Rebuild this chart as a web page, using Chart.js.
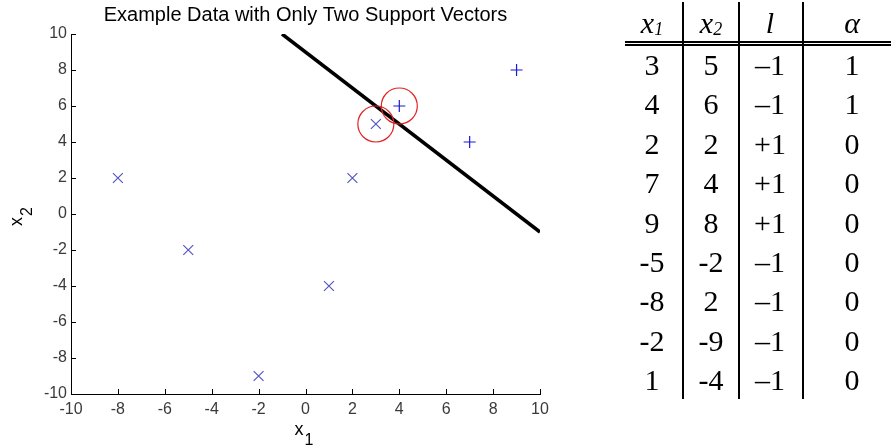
<!DOCTYPE html>
<html lang="en">
<head>
    <meta charset="UTF-8">
    <title>Example Data with Only Two Support Vectors</title>
    <script src="https://cdn.jsdelivr.net/npm/chart.js"></script>
    <style>
        body { margin: 0; background: #fff; width: 891px; height: 448px; position: relative; overflow: hidden; }
        #chartBox { position: absolute; left: 0; top: 0; width: 611px; height: 448px; }
        #svmTable { position: absolute; left: 0; top: 0; width: 891px; height: 448px; font-family: "Liberation Serif", "Times New Roman", serif; color: #000; }
        .cell { position: absolute; width: 80px; text-align: center; font-size: 30px; line-height: 30px; white-space: nowrap; }
        .rule { position: absolute; background: #000; }
    </style>
</head>
<body>
    <div id="chartBox"><canvas id="svmChart" width="611" height="448"></canvas></div>
    <div id="svmTable"></div>
    <script>
        // points of class -1 (drawn as x)
        const negX = [-8, -5, -2, 1, 2, 3];
        const negY = [2, -2, -9, -4, 2, 5];
        // points of class +1 (drawn as +)
        const posX = [4, 7, 9];
        const posY = [6, 4, 8];
        // the two support vectors (red circles)
        const svX = [3, 4];
        const svY = [5, 6];
        // separating line end points
        const lineX = [-1, 10];
        const lineY = [10, -1];
        const axisTicks = [-10, -8, -6, -4, -2, 0, 2, 4, 6, 8, 10];

        // table on the right
        const tableX1 = ['3', '4', '2', '7', '9', '-5', '-8', '-2', '1'];
        const tableX2 = ['5', '6', '2', '4', '8', '-2', '2', '-9', '-4'];
        const tableL = ['\u20131', '\u20131', '+1', '+1', '+1', '\u20131', '\u20131', '\u20131', '\u20131'];
        const tableAlpha = ['1', '1', '0', '0', '0', '0', '0', '0', '0'];

        const toPts = (xs, ys) => xs.map((v, i) => ({x: v, y: ys[i]}));

        const axisDecor = {
            id: 'axisDecor',
            afterDraw(chart) {
                const {ctx, chartArea: a, scales: {x, y}} = chart;
                ctx.save();
                ctx.strokeStyle = '#000';
                ctx.lineWidth = 1;
                ctx.beginPath();
                x.ticks.forEach(t => {
                    const px = Math.round(x.getPixelForValue(t.value)) + 0.5;
                    ctx.moveTo(px, a.bottom);
                    ctx.lineTo(px, a.bottom - 5);
                });
                y.ticks.forEach(t => {
                    const py = Math.round(y.getPixelForValue(t.value)) + 0.5;
                    ctx.moveTo(a.left, py);
                    ctx.lineTo(a.left + 5, py);
                });
                ctx.stroke();

                // axis titles with subscripts
                ctx.fillStyle = '#000';
                ctx.textBaseline = 'alphabetic';
                const cx = (a.left + a.right) / 2;
                ctx.font = '18px "Liberation Sans"';
                ctx.fillText('x', cx - 11, 435);
                ctx.font = '16px "Liberation Sans"';
                ctx.fillText('1', cx - 1, 445);

                ctx.translate(22, 226);
                ctx.rotate(-Math.PI / 2);
                ctx.font = '18px "Liberation Sans"';
                ctx.fillText('x', 0, 0);
                ctx.font = '16px "Liberation Sans"';
                ctx.fillText('2', 10, 10);
                ctx.restore();
            }
        };

        const tickFont = {family: '"Liberation Sans", Arial, sans-serif', size: 16};

        new Chart(document.getElementById('svmChart'), {
            type: 'scatter',
            data: {
                datasets: [
                    {
                        label: 'support vectors',
                        data: toPts(svX, svY),
                        pointStyle: 'circle',
                        pointRadius: 18,
                        borderColor: 'rgb(225, 35, 35)',
                        backgroundColor: 'rgba(0,0,0,0)',
                        borderWidth: 1.2
                    },
                    {
                        label: '+1',
                        data: toPts(posX, posY),
                        pointStyle: 'cross',
                        pointRadius: 6,
                        borderColor: 'rgb(25, 25, 215)',
                        borderWidth: 1.2
                    },
                    {
                        label: '-1',
                        data: toPts(negX, negY),
                        pointStyle: 'crossRot',
                        pointRadius: 7,
                        borderColor: 'rgb(80, 80, 195)',
                        borderWidth: 1.1
                    },
                    {
                        label: 'boundary',
                        data: toPts(lineX, lineY),
                        showLine: true,
                        pointRadius: 0,
                        borderColor: '#000',
                        borderWidth: 3.5
                    }
                ]
            },
            options: {
                responsive: false,
                animation: false,
                devicePixelRatio: 1,
                layout: {padding: 0},
                plugins: {
                    legend: {display: false},
                    tooltip: {enabled: false},
                    title: {
                        display: true,
                        text: 'Example Data with Only Two Support Vectors',
                        color: '#000',
                        font: {family: '"Liberation Sans", Arial, sans-serif', size: 20, weight: 'normal'},
                        padding: {top: 3, bottom: 7}
                    }
                },
                scales: {
                    x: {
                        type: 'linear',
                        min: -10, max: 10,
                        afterBuildTicks: s => { s.ticks = axisTicks.map(v => ({value: v})); },
                        afterFit: s => { s.height = 54; },
                        grid: {display: false, drawTicks: false},
                        border: {display: true, color: '#000', width: 1},
                        ticks: {color: '#3a3a3a', font: tickFont, padding: 6, maxRotation: 0, autoSkip: false}
                    },
                    y: {
                        type: 'linear',
                        min: -10, max: 10,
                        afterBuildTicks: s => { s.ticks = axisTicks.map(v => ({value: v})); },
                        afterFit: s => { s.width = 71; },
                        grid: {display: false, drawTicks: false},
                        border: {display: true, color: '#000', width: 1},
                        ticks: {color: '#3a3a3a', font: tickFont, padding: 4, autoSkip: false}
                    },
                    // empty right-hand axis: only keeps space so the plot box matches
                    yRight: {
                        type: 'linear',
                        position: 'right',
                        min: -10, max: 10,
                        afterFit: s => { s.width = 71; },
                        grid: {display: false, drawTicks: false},
                        border: {display: false},
                        ticks: {display: false}
                    }
                }
            },
            plugins: [axisDecor]
        });

        // build the table
        const box = document.getElementById('svmTable');
        const colCenters = [652, 711, 770, 852];
        const firstBaseline = 75;
        const rowStep = 39.4;

        function addCell(html, col, baseline) {
            const d = document.createElement('div');
            d.className = 'cell';
            d.innerHTML = html;
            d.style.left = (colCenters[col] - 40) + 'px';
            d.style.top = (baseline - 25) + 'px';
            box.appendChild(d);
        }
        function addRule(left, top, width, height) {
            const d = document.createElement('div');
            d.className = 'rule';
            Object.assign(d.style, {left: left + 'px', top: top + 'px', width: width + 'px', height: height + 'px'});
            box.appendChild(d);
        }

        const sub = t => '<span style="font-size:18px;font-style:italic;position:relative;top:2px">' + t + '</span>';
        const headers = ['<i>x</i>' + sub('1'), '<i>x</i>' + sub('2'), '<i>l</i>', '<i>\u03b1</i>'];
        headers.forEach((h, c) => addCell(h, c, 33));

        const cols = [tableX1, tableX2, tableL, tableAlpha];
        cols.forEach((col, c) => col.forEach((v, r) => addCell(v, c, firstBaseline + r * rowStep)));

        addRule(625, 41, 266, 1.5);
        addRule(625, 44, 266, 1.5);
        [681.5, 738, 802].forEach(x => addRule(x, 2, 2, 397));
    </script>
</body>
</html>
